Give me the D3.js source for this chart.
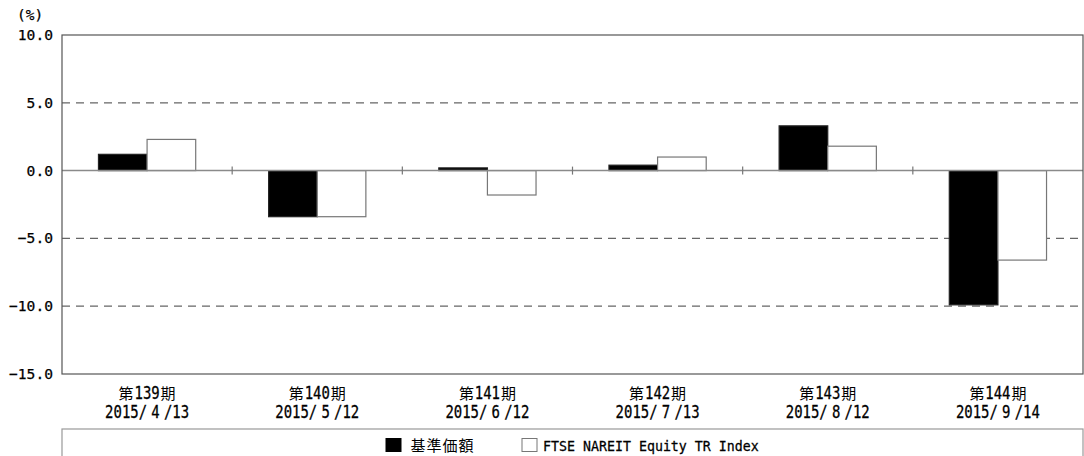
<!DOCTYPE html>
<html><head><meta charset="utf-8">
<script src="https://cdn.jsdelivr.net/npm/d3@7"></script>
<style>
html,body{margin:0;padding:0;background:#fff;}
svg{display:block;}
text{white-space:pre;}
</style></head>
<body>
<svg id="chart" width="1084" height="456"></svg>
<script>
// ---- data ----
const periods = ["第139期","第140期","第141期","第142期","第143期","第144期"];
const dates = ["2015/４/13","2015/５/12","2015/６/12","2015/７/13","2015/８/12","2015/９/14"];
const seriesNames = ["基準価額","FTSE NAREIT Equity TR Index"];
const navValues = [1.2, -3.4, 0.2, 0.4, 3.3, -9.9];
const indexValues = [2.3, -3.4, -1.8, 1.0, 1.8, -6.6];
const yTicks = [10, 5, 0, -5, -10, -15];
const gridValues = [5, -5, -10];

// ---- layout ----
const svg = d3.select("#chart");
const L = 62, R = 1083, T = 35, B = 374;
const latin = "'DejaVu Sans Mono','Liberation Mono',monospace";
const cjk = "'Noto Sans CJK JP','Noto Sans CJK SC',sans-serif";
const MONO_ADV = 0.602; // DejaVu Sans Mono advance per em

const x0 = d3.scaleBand().domain(periods).range([L, R]).paddingInner(0).paddingOuter(0);
const x1 = d3.scaleBand().domain(seriesNames).range([0, x0.bandwidth()]).paddingInner(0).paddingOuter(0.75);
const y = d3.scaleLinear().domain([-15, 10]).range([B, T]);

function isWide(c){ const k=c.charCodeAt(0); return k>=0x3000; }
function halfUnits(s){ let n=0; for(const c of s) n += isWide(c)?2:1; return n; }

// draw text as a fixed-cell (half/full width) string
function monoText(parent, s, x, yy, o){
  const cell=o.cell, anchor=o.anchor||"start", sy=o.sy||1;
  const lsize = cell/MONO_ADV;
  const units=halfUnits(s);
  let pos = anchor==="middle" ? x-units*cell/2 : anchor==="end" ? x-units*cell : x;
  const g = parent.append("g").attr("class","mono");
  const fill=o.fill||"#000";
  let buf="", bs=pos;
  const latinText=(str, px)=>{
    g.append("text").attr("x",0).attr("y",0)
      .attr("transform",`translate(${px},${yy}) scale(1,${sy})`)
      .attr("font-family",latin).attr("font-size",lsize)
      .attr("fill",fill).attr("stroke",fill).attr("stroke-width",0.25)
      .text(str);
  };
  const flush=()=>{ if(!buf) return; latinText(buf.replace(/-/g,"\u2212"), bs); buf=""; };
  for(const c of s){
    if(!isWide(c)){ if(!buf) bs=pos; buf+=c; pos+=cell; }
    else{
      flush();
      const k=c.charCodeAt(0);
      if(k>=0xFF01 && k<=0xFF5E){
        latinText(String.fromCharCode(k-0xFEE0), pos+cell/2);
      } else {
        g.append("text").attr("x",pos+(2*cell-o.csize)/2).attr("y",yy)
          .attr("font-family",cjk).attr("font-size",o.csize).attr("fill",fill).text(c);
      }
      pos+=2*cell;
    }
  }
  flush();
  return g;
}

// grid lines
svg.append("g").selectAll("line").data(gridValues).join("line")
  .attr("x1", L).attr("x2", R)
  .attr("y1", d=>y(d)).attr("y2", d=>y(d))
  .attr("stroke", "#666").attr("stroke-width", 1.2).attr("stroke-dasharray", "8,6");

// bars
const rows = periods.map((p,i)=>({p, vals:[navValues[i], indexValues[i]]}));
const g = svg.append("g");
rows.forEach(r=>{
  r.vals.forEach((v,j)=>{
    const name = seriesNames[j];
    g.append("rect")
      .attr("x", x0(r.p) + x1(name))
      .attr("width", x1.bandwidth())
      .attr("y", Math.min(y(v), y(0)))
      .attr("height", Math.abs(y(v) - y(0)))
      .attr("fill", j===0 ? "#000" : "#fff")
      .attr("stroke", j===0 ? "#222" : "#777")
      .attr("stroke-width", 1.2);
  });
});

// zero line
svg.append("line").attr("x1", L).attr("x2", R).attr("y1", y(0)).attr("y2", y(0))
  .attr("stroke", "#8a8a8a").attr("stroke-width", 1.5);
// ticks at band boundaries on zero line
svg.append("g").selectAll("line").data(periods.slice(1)).join("line")
  .attr("x1", d=>x0(d)).attr("x2", d=>x0(d))
  .attr("y1", y(0)-4).attr("y2", y(0)+4)
  .attr("stroke", "#777").attr("stroke-width", 1.2);

// frame
svg.append("rect").attr("x", L).attr("y", T).attr("width", R-L).attr("height", B-T)
  .attr("fill", "none").attr("stroke", "#555").attr("stroke-width", 1.2);

// y axis labels (positions from the scale)
const fmt = d3.format(".1f");
yTicks.forEach(t=>{
  monoText(svg, fmt(t), L-9, y(t)+5, {cell:8.8, csize:14, anchor:"end", sy:1});
});

// unit label
monoText(svg, "(%)", 17, 19.5, {cell:8.7, csize:14, sy:1});

// category labels
periods.forEach((p,i)=>{
  const cx = x0(p) + x0.bandwidth()/2;
  monoText(svg, p, cx, 398.5, {cell:8.4, csize:15, anchor:"middle", sy:1.2});
  monoText(svg, dates[i], cx, 417.5, {cell:8.4, csize:15, anchor:"middle", sy:1.2});
});

// legend
svg.append("rect").attr("x", L).attr("y", 429).attr("width", R-L).attr("height", 40)
  .attr("fill", "none").attr("stroke", "#999").attr("stroke-width", 1.2);
const leg = [{x:386, fill:"#000", stroke:"#000", tx:410, name:seriesNames[0]},
             {x:522, fill:"#fff", stroke:"#777", tx:543, name:seriesNames[1]}];
leg.forEach(l=>{
  svg.append("rect").attr("x", l.x).attr("y", 438.5).attr("width", 15).attr("height", 13)
    .attr("fill", l.fill).attr("stroke", l.stroke).attr("stroke-width", 1);
  monoText(svg, l.name, l.tx, 450.5, {cell:8.0, csize:15, sy:1.12});
});
</script>
</body></html>
